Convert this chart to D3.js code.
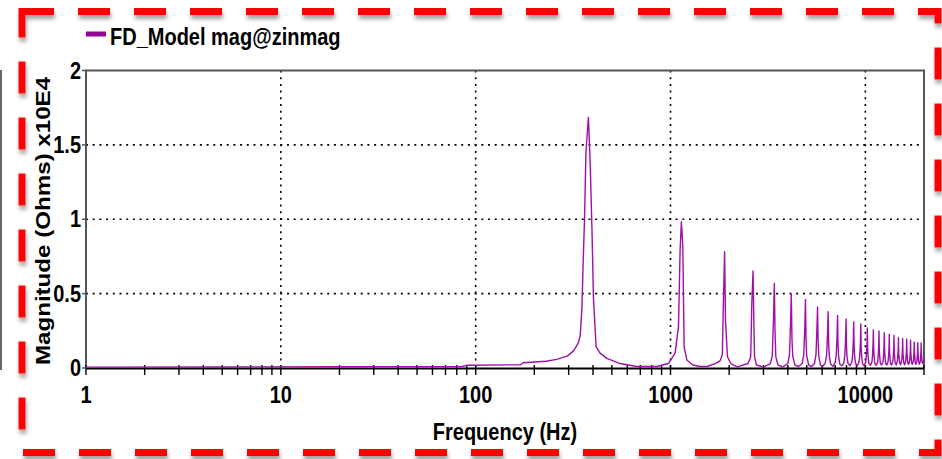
<!DOCTYPE html>
<html lang="en">
<head>
<meta charset="UTF-8">
<title>FD_Model impedance magnitude</title>
<script src="https://d3js.org/d3.v7.min.js"></script>
<style>
    body { margin: 0; background: #fff; }
    svg text { font-family: "Liberation Sans", Arial, sans-serif; font-weight: bold; fill: #000; }
</style>
</head>
<body>
<svg id="chart" width="942" height="459"></svg>
<script>
// legend / axis text
var seriesName = "FD_Model mag@zinmag";
var xTitle = "Frequency (Hz)";
var yTitle = "Magnitude (Ohms) x10E4";
var xTicks = [1, 10, 100, 1000, 10000];
var yTicks = [0, 0.5, 1, 1.5, 2];

// trace: frequency (Hz) and magnitude (x10E4 Ohms)
var freqHz = [
    1, 5, 20, 50, 85, 90, 170, 175, 230, 260, 295, 318, 337, 344, 351, 356, 362, 368, 379, 387,
    395, 402, 415, 435, 471, 551, 671, 851, 975, 1056, 1099, 1120, 1137, 1156, 1175, 1213, 1300, 1419, 1550, 1700,
    1800, 1845, 1870, 1895, 1915, 1960, 2040, 2200,
    2500, 2580, 2615, 2653, 2680, 2700, 2760, 3000,
    3250, 3330, 3380, 3411, 3440, 3470, 3560, 3780,
    4000, 4080, 4130, 4169, 4200, 4240, 4350, 4540,
    4740, 4830, 4890, 4927, 4960, 5000, 5120, 5300,
    5480, 5580, 5640, 5685, 5720, 5770, 5880, 6060,
    6230, 6330, 6400, 6443, 6480, 6530, 6640, 6820,
    7000, 7090, 7160, 7201, 7240, 7290, 7400, 7580,
    7760, 7850, 7920, 7959, 8000, 8050, 8150, 8340,
    8520, 8610, 8680, 8717, 8760, 8810, 8910, 9100,
    9280, 9370, 9440, 9475, 9520, 9570, 9670, 9850,
    10050, 10130, 10200, 10233, 10280, 10330, 10420, 10610,
    10810, 10890, 10950, 10991, 11040, 11090, 11180, 11370,
    11570, 11650, 11710, 11749, 11800, 11850, 11940, 12130,
    12330, 12410, 12470, 12507, 12560, 12610, 12700, 12890,
    13090, 13170, 13230, 13265, 13320, 13370, 13460, 13640,
    13850, 13930, 13990, 14023, 14080, 14130, 14220, 14400,
    14610, 14690, 14750, 14781, 14840, 14890, 14980, 15160,
    15370, 15450, 15510, 15539, 15600, 15650, 15740, 15920,
    16130, 16210, 16270, 16297, 16360, 16410, 16500, 16680,
    16890, 16970, 17030, 17055, 17120, 17170, 17260, 17430,
    17650, 17730, 17790, 17813, 17880, 17930, 18020, 18190,
    18410, 18490, 18550, 18571, 18640, 18690, 18780, 18950,
    19170, 19250, 19310, 19329, 19400, 19450, 19540, 19700,
    20000
];
var magE4 = [
    0.006, 0.007, 0.008, 0.009, 0.01, 0.018, 0.022, 0.035, 0.045, 0.058, 0.08, 0.115, 0.17, 0.22, 0.4, 0.7, 1.0, 1.45, 1.685, 1.38,
    0.95, 0.48, 0.143, 0.1, 0.065, 0.03, 0.01, 0.01, 0.03, 0.1, 0.28, 0.79, 0.983, 0.82, 0.14, 0.054, 0.02, 0.01, 0.012, 0.03,
    0.05, 0.09, 0.46, 0.782, 0.32, 0.076, 0.03, 0.008,
    0.03, 0.076, 0.44, 0.652, 0.28, 0.076, 0.02, 0.006,
    0.03, 0.08, 0.35, 0.569, 0.24, 0.076, 0.02, 0.008,
    0.03, 0.09, 0.3, 0.495, 0.2, 0.08, 0.02, 0.01,
    0.03, 0.09, 0.28, 0.46, 0.2, 0.08, 0.02, 0.01,
    0.03, 0.09, 0.26, 0.41, 0.18, 0.08, 0.02, 0.012,
    0.035, 0.09, 0.24, 0.378, 0.17, 0.08, 0.025, 0.012,
    0.035, 0.09, 0.22, 0.354, 0.16, 0.08, 0.025, 0.015,
    0.035, 0.09, 0.2, 0.33, 0.15, 0.08, 0.03, 0.015,
    0.04, 0.09, 0.19, 0.31, 0.14, 0.08, 0.03, 0.015,
    0.04, 0.09, 0.18, 0.296, 0.13, 0.08, 0.03, 0.015,
    0.04, 0.09, 0.17, 0.27, 0.12, 0.08, 0.03, 0.018,
    0.04, 0.09, 0.16, 0.256, 0.12, 0.08, 0.03, 0.018,
    0.04, 0.09, 0.15, 0.249, 0.11, 0.08, 0.03, 0.02,
    0.045, 0.09, 0.15, 0.237, 0.11, 0.08, 0.03, 0.02,
    0.045, 0.09, 0.14, 0.226, 0.1, 0.08, 0.03, 0.02,
    0.045, 0.09, 0.14, 0.218, 0.1, 0.08, 0.035, 0.02,
    0.05, 0.09, 0.13, 0.205, 0.1, 0.08, 0.035, 0.022,
    0.05, 0.09, 0.13, 0.198, 0.1, 0.08, 0.035, 0.022,
    0.05, 0.09, 0.13, 0.193, 0.1, 0.08, 0.035, 0.025,
    0.05, 0.09, 0.12, 0.187, 0.1, 0.08, 0.035, 0.025,
    0.05, 0.09, 0.12, 0.175, 0.1, 0.08, 0.035, 0.025,
    0.05, 0.09, 0.12, 0.17, 0.1, 0.08, 0.04, 0.025,
    0.05, 0.09, 0.12, 0.168, 0.1, 0.08, 0.04, 0.03,
    0.06
];

var svg = d3.select("#chart");

// plot box (pixels)
var plotL = 86, plotR = 924, plotT = 70.5, plotB = 368;
var x = d3.scaleLog().domain([1, 20000]).range([plotL, plotR]);
var y = d3.scaleLinear().domain([0, 2]).range([plotB, plotT]);

// red dashed frame with a soft shadow (screenshot border)
var defs = svg.append("defs");
defs.append("filter").attr("id", "shade")
    .attr("x", "-5%").attr("y", "-5%").attr("width", "110%").attr("height", "110%")
    .append("feDropShadow")
    .attr("dx", 1).attr("dy", 4).attr("stdDeviation", 2)
    .attr("flood-color", "#777").attr("flood-opacity", 0.7);

svg.append("rect")
    .attr("x", 22).attr("y", 11.5).attr("width", 916).attr("height", 441)
    .attr("fill", "none").attr("stroke", "#ff0000").attr("stroke-width", 7)
    .attr("stroke-dasharray", "32 24")
    .attr("filter", "url(#shade)");

// leftover edge of neighbouring picture
svg.append("line").attr("x1", 1).attr("x2", 1).attr("y1", 70).attr("y2", 370)
    .attr("stroke", "#333").attr("stroke-width", 1.5);

// dotted grid
var grid = svg.append("g").attr("stroke", "#000").attr("stroke-width", 1.6)
    .attr("stroke-dasharray", "2 4.7");
grid.selectAll(".gx").data(xTicks.slice(1)).enter().append("line")
    .attr("x1", function(d) { return x(d); }).attr("x2", function(d) { return x(d); })
    .attr("y1", plotT).attr("y2", plotB);
grid.selectAll(".gy").data(yTicks.slice(1, -1)).enter().append("line")
    .attr("x1", plotL).attr("x2", plotR)
    .attr("y1", function(d) { return y(d); }).attr("y2", function(d) { return y(d); });

// frame lines
svg.append("path")
    .attr("d", "M" + plotL + "," + plotB + "V" + plotT + "H" + plotR + "V" + plotB)
    .attr("fill", "none").attr("stroke", "#555").attr("stroke-width", 2);

// x axis line and ticks (every 1..9 per decade)
svg.append("line").attr("x1", plotL).attr("x2", plotR).attr("y1", plotB + 0.5).attr("y2", plotB + 0.5)
    .attr("stroke", "#000").attr("stroke-width", 2);
svg.append("g").selectAll("line").data(x.ticks()).enter().append("line")
    .attr("x1", function(d) { return x(d); }).attr("x2", function(d) { return x(d); })
    .attr("y1", plotB - 3).attr("y2", plotB + 7)
    .attr("stroke", "#000").attr("stroke-width", 1.4);

// trace
var line = d3.line()
    .x(function(d, i) { return x(freqHz[i]); })
    .y(function(d) { return y(d); });
svg.append("path")
    .datum(magE4)
    .attr("fill", "none")
    .attr("stroke", "#a010a8")
    .attr("stroke-width", 1.4)
    .attr("stroke-linejoin", "round")
    .attr("d", line);

svg.append("g").selectAll("text").data(xTicks).enter().append("text")
    .attr("transform", function(d) { return "translate(" + x(d) + ",403) scale(1,1.15)"; })
    .attr("text-anchor", "middle")
    .style("font-size", "20px")
    .text(function(d) { return d; });

// y ticks
svg.append("g").selectAll("line").data(yTicks).enter().append("line")
    .attr("x1", plotL - 4).attr("x2", plotL)
    .attr("y1", function(d) { return y(d); }).attr("y2", function(d) { return y(d); })
    .attr("stroke", "#555").attr("stroke-width", 1.5);
svg.append("g").selectAll("text").data(yTicks).enter().append("text")
    .attr("transform", function(d) { return "translate(81," + (y(d) + 8) + ") scale(1,1.15)"; })
    .attr("text-anchor", "end")
    .style("font-size", "20px")
    .text(function(d) { return d; });

// axis titles
svg.append("text")
    .attr("transform", "translate(505,440) scale(1,1.15)")
    .attr("text-anchor", "middle")
    .style("font-size", "20px")
    .text(xTitle);
svg.append("text")
    .attr("transform", "translate(50,221) rotate(-90) scale(1.15,1)")
    .attr("text-anchor", "middle")
    .style("font-size", "21px")
    .text(yTitle);

// legend
svg.append("rect").attr("x", 86).attr("y", 31.5).attr("width", 20).attr("height", 5)
    .attr("fill", "#990099");
svg.append("text")
    .attr("transform", "translate(110,45) scale(1,1.15)")
    .style("font-size", "20px")
    .text(seriesName);
</script>
</body>
</html>
